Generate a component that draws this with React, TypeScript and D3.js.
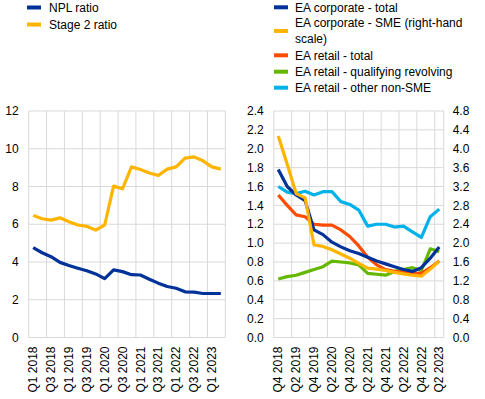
import { useEffect, useRef } from "react";
import * as d3 from "d3";

const leftQuarters = [
  "Q1 2018", "Q2 2018", "Q3 2018", "Q4 2018", "Q1 2019", "Q2 2019", "Q3 2019", "Q4 2019",
  "Q1 2020", "Q2 2020", "Q3 2020", "Q4 2020", "Q1 2021", "Q2 2021", "Q3 2021", "Q4 2021",
  "Q1 2022", "Q2 2022", "Q3 2022", "Q4 2022", "Q1 2023", "Q2 2023",
];
const nplRatio = [4.76, 4.49, 4.28, 3.98, 3.81, 3.67, 3.54, 3.37, 3.12, 3.58, 3.49, 3.33, 3.31, 3.09, 2.88, 2.7, 2.61, 2.42, 2.4, 2.33, 2.33, 2.33];
const stage2Ratio = [6.47, 6.29, 6.22, 6.34, 6.13, 5.96, 5.89, 5.69, 5.96, 8.02, 7.88, 9.04, 8.9, 8.72, 8.58, 8.92, 9.04, 9.5, 9.57, 9.36, 9.04, 8.92];
const leftTicks = [0, 2, 4, 6, 8, 10, 12];

const rightQuarters = [
  "Q4 2018", "Q1 2019", "Q2 2019", "Q3 2019", "Q4 2019", "Q1 2020", "Q2 2020", "Q3 2020",
  "Q4 2020", "Q1 2021", "Q2 2021", "Q3 2021", "Q4 2021", "Q1 2022", "Q2 2022", "Q3 2022",
  "Q4 2022", "Q1 2023", "Q2 2023",
];
const corpTotal = [1.78, 1.6, 1.51, 1.45, 1.14, 1.09, 1.01, 0.96, 0.92, 0.89, 0.85, 0.81, 0.78, 0.75, 0.72, 0.7, 0.74, 0.84, 0.96];
const corpSme = [4.27, 3.67, 3.05, 2.96, 1.96, 1.93, 1.86, 1.77, 1.68, 1.57, 1.47, 1.45, 1.42, 1.38, 1.35, 1.32, 1.3, 1.45, 1.62];
const retailTotal = [1.51, 1.4, 1.3, 1.28, 1.2, 1.19, 1.19, 1.14, 1.07, 0.97, 0.85, 0.77, 0.72, 0.7, 0.69, 0.68, 0.68, 0.74, 0.81];
const retailQrr = [0.62, 0.645, 0.66, 0.69, 0.72, 0.75, 0.81, 0.8, 0.79, 0.77, 0.68, 0.67, 0.66, 0.7, 0.72, 0.74, 0.71, 0.94, 0.91];
const retailOther = [1.6, 1.54, 1.525, 1.55, 1.51, 1.545, 1.545, 1.44, 1.41, 1.35, 1.18, 1.2, 1.2, 1.17, 1.18, 1.12, 1.06, 1.28, 1.36];
const rightTicksL = [0, 0.2, 0.4, 0.6, 0.8, 1.0, 1.2, 1.4, 1.6, 1.8, 2.0, 2.2, 2.4];
const rightTicksR = [0, 0.4, 0.8, 1.2, 1.6, 2.0, 2.4, 2.8, 3.2, 3.6, 4.0, 4.4, 4.8];

const BLUE = "#003299";
const YELLOW = "#ffb400";
const RED = "#ff4b00";
const GREEN = "#65b800";
const CYAN = "#00b1ea";
const GRID = "#d9d9d9";
const FONT = "Arial, 'Liberation Sans', sans-serif";

export default function App() {
  const svgRef = useRef<SVGSVGElement>(null);

  useEffect(() => {
    if (!svgRef.current) return;
    const svg = d3.select(svgRef.current);
    svg.selectAll("*").remove();

    const top = 111, bottom = 337.5;

    const drawPanel = (
      cats: string[],
      x0: number,
      x1: number,
      yMax: number,
      ticks: number[],
      fmt: (v: number) => string,
      series: { values: number[]; color: string; right?: boolean }[],
      rightAxis?: { max: number; ticks: number[] }
    ) => {
      const g = svg.append("g");
      const x = d3.scaleBand().domain(cats).range([x0, x1]).padding(0);
      const y = d3.scaleLinear().domain([0, yMax]).range([bottom, top]);
      const yR = rightAxis ? d3.scaleLinear().domain([0, rightAxis.max]).range([bottom, top]) : y;

      // horizontal grid
      g.selectAll(".hg").data(ticks).enter().append("line")
        .attr("x1", x0).attr("x2", x1)
        .attr("y1", (d) => y(d)).attr("y2", (d) => y(d))
        .style("stroke", GRID).style("stroke-width", 1);

      // vertical grid every 2 categories + right edge
      const vIdx = d3.range(0, cats.length, 2);
      const vx = vIdx.map((i) => x(cats[i])!).concat([x1]);
      g.selectAll(".vg").data(vx).enter().append("line")
        .attr("x1", (d) => d).attr("x2", (d) => d)
        .attr("y1", top).attr("y2", bottom)
        .style("stroke", GRID).style("stroke-width", 1);

      // y tick labels
      g.selectAll(".yl").data(ticks).enter().append("text")
        .attr("x", x0 - 10).attr("y", (d) => y(d)).attr("dy", "0.35em")
        .attr("text-anchor", "end")
        .style("font-family", FONT).style("font-size", "12px").style("fill", "#000")
        .text((d) => fmt(d));

      if (rightAxis) {
        g.selectAll(".yr").data(rightAxis.ticks).enter().append("text")
          .attr("x", x1 + 9).attr("y", (d) => yR(d)).attr("dy", "0.35em")
          .attr("text-anchor", "start")
          .style("font-family", FONT).style("font-size", "12px").style("fill", "#000")
          .text((d) => d.toFixed(1));
      }

      // x labels
      const bw = x.bandwidth();
      g.selectAll(".xl").data(vIdx).enter().append("text")
        .attr("transform", (i) => `translate(${x(cats[i])! + bw / 2},${bottom + 9}) rotate(-90)`)
        .attr("dy", "0.35em")
        .attr("text-anchor", "end")
        .style("font-family", FONT).style("font-size", "12px").style("fill", "#000")
        .text((i) => cats[i]);

      series.forEach((s) => {
        const sc = s.right ? yR : y;
        const line = d3.line<number>()
          .x((_, i) => x(cats[i])! + bw / 2)
          .y((d) => sc(d));
        g.append("path")
          .attr("d", line(s.values))
          .style("fill", "none")
          .style("stroke", s.color)
          .style("stroke-width", 3.2)
          .style("stroke-linejoin", "round");
      });
    };

    drawPanel(leftQuarters, 28.7, 225.3, 12, leftTicks, (d) => String(d), [
      { values: stage2Ratio, color: YELLOW },
      { values: nplRatio, color: BLUE },
    ]);

    drawPanel(rightQuarters, 273.8, 443.7, 2.4, rightTicksL, (d) => d.toFixed(1), [
      { values: retailOther, color: CYAN },
      { values: retailQrr, color: GREEN },
      { values: retailTotal, color: RED },
      { values: corpTotal, color: BLUE },
      { values: corpSme, color: YELLOW, right: true },
    ], { max: 4.8, ticks: rightTicksR });

    // legends
    const legend = (items: { lines: string[]; color: string; y: number }[], sx: number, tx: number) => {
      const lg = svg.append("g");
      items.forEach((it) => {
        const n = it.lines.length;
        const sy = it.y + ((n - 1) * 16.5) / 2;
        lg.append("line")
          .attr("x1", sx).attr("x2", sx + 14)
          .attr("y1", sy).attr("y2", sy)
          .style("stroke", it.color).style("stroke-width", 4);
        it.lines.forEach((t, k) => {
          lg.append("text")
            .attr("x", tx).attr("y", it.y + k * 16.5).attr("dy", "0.35em")
            .style("font-family", FONT).style("font-size", "12px").style("fill", "#000")
            .text(t);
        });
      });
    };

    legend([
      { lines: ["NPL ratio"], color: BLUE, y: 7.5 },
      { lines: ["Stage 2 ratio"], color: YELLOW, y: 24.5 },
    ], 27, 49);

    legend([
      { lines: ["EA corporate - total"], color: BLUE, y: 7.3 },
      { lines: ["EA corporate - SME (right-hand", "scale)"], color: YELLOW, y: 22.7 },
      { lines: ["EA retail - total"], color: RED, y: 55.3 },
      { lines: ["EA retail - qualifying revolving"], color: GREEN, y: 71.7 },
      { lines: ["EA retail - other non-SME"], color: CYAN, y: 87.7 },
    ], 274, 295);
  }, []);

  return (
    <svg
      ref={svgRef}
      width={485}
      height={399}
      style={{ position: "absolute", left: 0, top: 0, background: "#fff" }}
    />
  );
}
